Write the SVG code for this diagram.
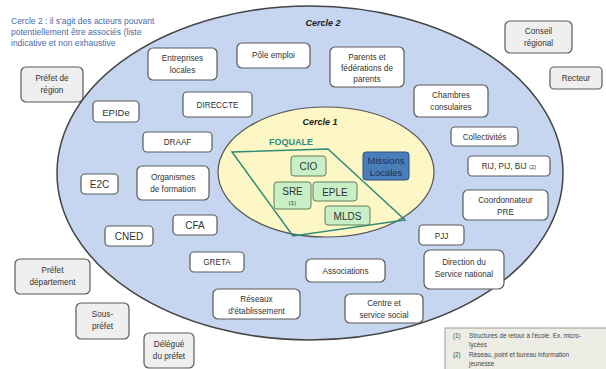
<svg xmlns="http://www.w3.org/2000/svg" width="606" height="369" viewBox="0 0 606 369">
<style>
.bx{fill:#ffffff;stroke:#5a5a5a;stroke-width:1.2}
.gb{fill:#efefef;stroke:#5a5a5a;stroke-width:1.2}
.gr{fill:#c8efc6;stroke:#5f7f5f;stroke-width:1}
.t{font-family:"Liberation Sans",Arial,sans-serif;font-size:8.2px;fill:#333;text-anchor:middle}
.a{font-family:"Liberation Sans",Arial,sans-serif;font-size:10px;fill:#333;text-anchor:middle}
.n{font-family:"Liberation Sans",Arial,sans-serif;font-size:6.3px;fill:#444}
.lbl{font-family:"Liberation Sans",Arial,sans-serif;font-size:9px;font-weight:bold;font-style:italic;fill:#222;text-anchor:middle}
</style>
<rect width="606" height="369" fill="#ffffff"/>
<g id="title">
<text font-family="Liberation Sans, Arial, sans-serif" font-size="8.5px" fill="#4a6aa5"><tspan x="11" y="24">Cercle 2 : il s'agit des acteurs pouvant</tspan><tspan x="11" y="35">potentiellement être associés (liste</tspan><tspan x="11" y="46">indicative et non exhaustive</tspan></text>
</g>
<g id="cercle2">
<ellipse cx="310" cy="173" rx="253" ry="167" fill="#c6d5f0" stroke="#444" stroke-width="1.5"/>
<text class="lbl" x="323" y="26">Cercle 2</text>
</g>
<g id="cercle1">
<ellipse cx="326" cy="172" rx="108" ry="65" fill="#fcf7c4" stroke="#555" stroke-width="1.2"/>
<text class="lbl" x="320" y="125">Cercle 1</text>
</g>
<g id="foquale">
<polygon points="232,152 328,149 405,220 293,236" fill="none" stroke="#2e8b7a" stroke-width="1.5"/>
<text x="291" y="145" font-family="Liberation Sans, Arial, sans-serif" font-size="9px" font-weight="bold" fill="#2e8b7a" text-anchor="middle">FOQUALE</text>
</g>
<g id="cio"><rect class="gr" x="291" y="156" width="35" height="20" rx="3"/><text class="a" x="308.5" y="170">CIO</text></g>
<g id="sre"><rect class="gr" x="274" y="182" width="37" height="27" rx="3"/><text class="a" x="292.5" y="195">SRE</text><text class="a" x="292.5" y="205" style="font-size:6px">(1)</text></g>
<g id="eple"><rect class="gr" x="313" y="182" width="44" height="19" rx="3"/><text class="a" x="335" y="195.5">EPLE</text></g>
<g id="mlds"><rect class="gr" x="325" y="206" width="45" height="19" rx="3"/><text class="a" x="347.5" y="219.5">MLDS</text></g>
<g id="missions"><rect x="363" y="152" width="46" height="28" rx="3" fill="#4a7ebb" stroke="#2f4f7f" stroke-width="1"/><text class="a" x="386" y="164" style="font-size:9.5px;fill:#1c2e4e">Missions</text><text class="a" x="386" y="176" style="font-size:9.5px;fill:#1c2e4e">Locales</text></g>

<g id="entreprises"><rect class="bx" x="148" y="48" width="69" height="32" rx="5"/><text class="t" x="182.5" y="61">Entreprises</text><text class="t" x="182.5" y="73">locales</text></g>
<g id="pole"><rect class="bx" x="237" y="43" width="73" height="25" rx="5"/><text class="t" x="273.5" y="58">Pôle emploi</text></g>
<g id="prefet-region"><rect class="gb" x="21" y="67" width="62" height="35" rx="5"/><text class="t" x="52" y="81">Préfet de</text><text class="t" x="52" y="93">région</text></g>
<g id="direccte"><rect class="bx" x="183" y="92" width="69" height="25" rx="4"/><text class="t" x="217.5" y="107.5">DIRECCTE</text></g>
<g id="epide"><rect class="bx" x="93" y="101" width="46" height="21" rx="4"/><text class="a" x="116" y="115.5" style="font-size:9.5px">EPIDe</text></g>
<g id="parents"><rect class="bx" x="330" y="47" width="74" height="40" rx="5"/><text class="t" x="367" y="60">Parents et</text><text class="t" x="367" y="71">fédérations de</text><text class="t" x="367" y="82">parents</text></g>
<g id="conseil"><rect class="gb" x="505" y="21" width="67" height="32" rx="5"/><text class="t" x="538.5" y="34">Conseil</text><text class="t" x="538.5" y="46">régional</text></g>
<g id="recteur"><rect class="gb" x="550" y="67" width="52" height="22" rx="4"/><text class="t" x="576" y="81">Recteur</text></g>
<g id="chambres"><rect class="bx" x="414" y="85" width="74" height="32" rx="5"/><text class="t" x="451" y="98">Chambres</text><text class="t" x="451" y="110">consulaires</text></g>
<g id="draaf"><rect class="bx" x="143" y="132" width="69" height="20" rx="4"/><text class="t" x="177.5" y="145">DRAAF</text></g>
<g id="e2c"><rect class="bx" x="81" y="174" width="37" height="20" rx="4"/><text class="a" x="99.5" y="188">E2C</text></g>
<g id="organismes"><rect class="bx" x="137" y="166" width="72" height="34" rx="5"/><text class="t" x="173" y="180">Organismes</text><text class="t" x="173" y="192">de formation</text></g>
<g id="cfa"><rect class="bx" x="173" y="215" width="44" height="20" rx="4"/><text class="a" x="195" y="229">CFA</text></g>
<g id="cned"><rect class="bx" x="105" y="226" width="48" height="20" rx="4"/><text class="a" x="129" y="240">CNED</text></g>
<g id="collectivites"><rect class="bx" x="451" y="127" width="67" height="19" rx="4"/><text class="t" x="484.5" y="139.5">Collectivités</text></g>
<g id="rij"><rect class="bx" x="468" y="156" width="82" height="20" rx="4"/><text class="t" x="509" y="169">RIJ, PIJ, BIJ <tspan style="font-size:6px">(2)</tspan></text></g>
<g id="coordonnateur"><rect class="bx" x="463" y="190" width="85" height="30" rx="5"/><text class="t" x="505.5" y="203">Coordonnateur</text><text class="t" x="505.5" y="215">PRE</text></g>
<g id="pjj"><rect class="bx" x="419" y="225" width="45" height="20" rx="4"/><text class="t" x="441.5" y="238.5">PJJ</text></g>
<g id="greta"><rect class="bx" x="190" y="252" width="54" height="20" rx="4"/><text class="t" x="217" y="265">GRETA</text></g>
<g id="prefet-departement"><rect class="gb" x="15" y="259" width="75" height="35" rx="5"/><text class="t" x="52.5" y="273">Préfet</text><text class="t" x="52.5" y="285">département</text></g>
<g id="reseaux"><rect class="bx" x="213" y="289" width="87" height="30" rx="5"/><text class="t" x="256.5" y="302">Réseaux</text><text class="t" x="256.5" y="314">d'établissement</text></g>
<g id="sous-prefet"><rect class="gb" x="76" y="303" width="53" height="36" rx="5"/><text class="t" x="102.5" y="317">Sous-</text><text class="t" x="102.5" y="329">préfet</text></g>
<g id="delegue"><rect class="gb" x="144" y="333" width="50" height="35" rx="5"/><text class="t" x="169" y="347">Délégué</text><text class="t" x="169" y="359">du préfet</text></g>
<g id="associations"><rect class="bx" x="306" y="259" width="79" height="23" rx="5"/><text class="t" x="345.5" y="273.5">Associations</text></g>
<g id="direction"><rect class="bx" x="424" y="250" width="80" height="39" rx="6"/><text class="t" x="464" y="265">Direction du</text><text class="t" x="464" y="277">Service national</text></g>
<g id="centre"><rect class="bx" x="345" y="294" width="78" height="29" rx="5"/><text class="t" x="384" y="306">Centre et</text><text class="t" x="384" y="318">service social</text></g>

<g id="note">
<rect x="445" y="328" width="170" height="45" fill="#eeede5" stroke="#9a9a9a" stroke-width="1"/>
<text class="n" x="453" y="338">(1)</text><text class="n" x="469" y="338">Structures de retour à l'école. Ex. micro-</text>
<text class="n" x="469" y="347">lycées</text>
<text class="n" x="453" y="357">(2)</text><text class="n" x="469" y="357">Réseau, point et bureau  information</text>
<text class="n" x="469" y="366">jeunesse</text>
</g>
<g id="connectors"></g>
</svg>
